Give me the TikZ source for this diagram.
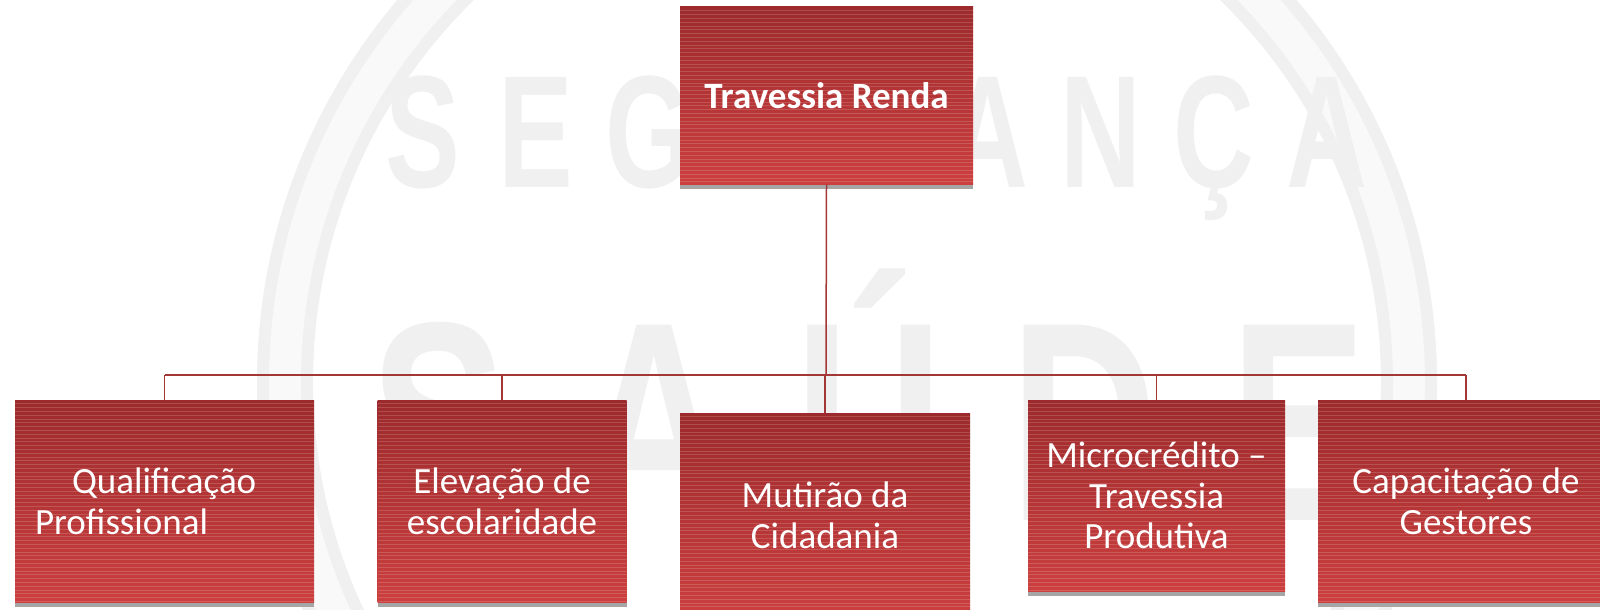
\documentclass[tikz,border=0pt]{standalone}
\usepackage{fontspec}
\setmainfont{Carlito}
\newfontfamily\markfont{Liberation Sans}
\usetikzlibrary{shadows}
\definecolor{boxtop}{RGB}{156,42,44}
\definecolor{boxbot}{RGB}{204,63,63}
\definecolor{linkred}{RGB}{163,55,55}
\definecolor{shadowgray}{RGB}{166,166,166}
\definecolor{markgray}{RGB}{240,240,240}
\definecolor{ringgray}{RGB}{240,240,240}

\begin{document}
\begin{tikzpicture}[x=0.5pt,y=-0.5pt,
    box/.style={rectangle,inner sep=0pt,top color=boxtop,bottom color=boxbot,text=white,align=center,
      font=\fontsize{18.5}{20.3}\selectfont,
      drop shadow={shadow xshift=0pt,shadow yshift=-2.5pt,fill=shadowgray,opacity=1},
      path picture={\foreach \k in {1,...,60}
        \draw[white,opacity=0.16,line width=0.35pt]
          ([yshift=-\k*1.9pt]path picture bounding box.north west) -- ([yshift=-\k*1.9pt]path picture bounding box.north east);}},
    link/.style={draw=linkred,line width=0.75pt},
    mark letter/.style={text=markgray,inner sep=0pt,anchor=base}]
   \useasboundingbox (0,0) rectangle (1600,610);
   \fill[white] (0,0) rectangle (1600,610);
   % watermark
   \begin{scope}
     \clip (0,0) rectangle (1600,610);
     \draw[ringgray!40!white,line width=27.5pt] (847,382) circle[radius=562];
     \draw[ringgray,line width=6pt] (847,382) circle[radius=584];
     \draw[ringgray,line width=6pt] (847,382) circle[radius=540];
     \foreach \c [count=\i] in {S,E,G,U,R,A,N,Ç,A}
       \node[mark letter,font=\markfont\bfseries\fontsize{80}{80}\selectfont] (seg\i) at (310+113*\i,187) {\scalebox{0.7}[1]{\c}};
     \foreach \c [count=\i] in {S,A,Ú,D,E}
       \node[mark letter,font=\markfont\bfseries\fontsize{142}{142}\selectfont] (sau\i) at (224+215*\i,520) {\scalebox{0.72}[1]{\c}};
   \end{scope}
   % boxes
   \node[box,font=\bfseries\fontsize{18.5}{20.3}\selectfont,minimum width=146.5pt,minimum height=88.5pt] (renda) at (826.5,95.5) {Travessia Renda};
   \node[box,minimum width=149.5pt,minimum height=101pt,align=left,text width=129.5pt] (qualif) at (164.5,501) {\hspace*{18.5pt}Qualificação\\Profissional};
   \node[box,minimum width=124.5pt,minimum height=101pt] (escola) at (502,501) {Elevação de\\escolaridade};
   \node[box,minimum width=145pt,minimum height=102.5pt] (mutirao) at (825,515.5) {Mutirão da\\Cidadania};
   \node[box,minimum width=128.5pt,minimum height=95.5pt] (micro) at (1156.5,495.5) {Microcrédito –\\Travessia\\Produtiva};
   \node[box,minimum width=148pt,minimum height=101pt] (gestores) at (1466,501) {Capacitação de\\Gestores};
   % connectors
   \coordinate (bus) at (826,375);
   \draw[link] (renda.south) -- (bus);
   \draw[link] (bus -| qualif.north) -- (bus -| gestores.north);
   \foreach \b in {qualif,escola,mutirao,micro,gestores}
     \draw[link] (bus -| \b.north) -- (\b.north);
\end{tikzpicture}
\end{document}
